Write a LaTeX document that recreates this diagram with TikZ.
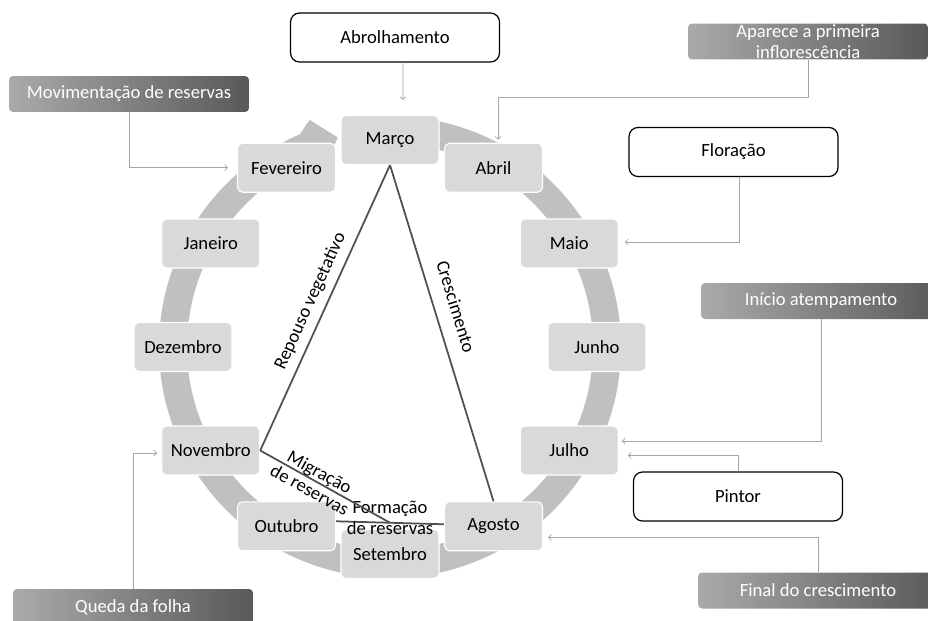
\documentclass[tikz,border=0pt]{standalone}
\usepackage{fontspec}
\setmainfont{Carlito}
\usetikzlibrary{arrows,calc,positioning}

\definecolor{ringgray}{RGB}{192,192,192}
\definecolor{boxgray}{RGB}{217,217,217}
\definecolor{stageleft}{RGB}{170,170,170}
\definecolor{stageright}{RGB}{89,89,89}
\definecolor{linkgray}{RGB}{166,166,166}
\definecolor{phasegray}{RGB}{80,80,80}

\begin{document}
\begin{tikzpicture}[x=0.02cm,y=0.02cm,>=to,font=\fontsize{10.6}{11.6}\selectfont]
        \tikzstyle{month}=[rectangle,rounded corners=0.1cm,fill=boxgray,draw=white,line width=0.6pt,minimum width=1.96cm,minimum height=0.98cm,inner sep=0pt]
        \tikzstyle{event}=[rectangle,rounded corners=0.18cm,draw=black,line width=0.7pt,fill=white,minimum width=4.18cm,minimum height=0.98cm]
        \tikzstyle{stage}=[rectangle,rounded corners=0.08cm,left color=stageleft,right color=stageright,minimum width=4.8cm,minimum height=0.72cm,text=white]
        \tikzstyle{link}=[->,draw=linkgray,line width=0.5pt]
        \tikzstyle{phase}=[draw=phasegray,line width=1pt]

        \useasboundingbox (0,0) rectangle (928,620);
        \clip (0,0) rectangle (928,620);

        \coordinate (c) at (390,273);
        % circular arrow behind the months
        \fill[ringgray] ($(c)+(85:203)$) arc[start angle=85,end angle=-247,radius=203]
            -- ($(c)+(-250.5:192)$) -- ($(c)+(-256:216)$) -- ($(c)+(-250.5:241)$)
            -- ($(c)+(-247:231)$) arc[start angle=-247,end angle=85,radius=231] -- cycle;

        \node [month] (mar) at ($(c)+(90:207)$)  {Março};
        \node [month] (abl) at ($(c)+(60:207)$)  {Abril};
        \node [month] (mai) at ($(c)+(30:207)$)  {Maio};
        \node [month] (jun) at ($(c)+(0:207)$)   {Junho};
        \node [month] (jul) at ($(c)+(-30:207)$) {Julho};
        \node [month] (ago) at ($(c)+(-60:207)$) {Agosto};
        \node [month] (set) at ($(c)+(-90:207)$) {Setembro};
        \node [month] (out) at ($(c)+(240:207)$) {Outubro};
        \node [month] (nov) at ($(c)+(210:207)$) {Novembro};
        \node [month] (dez) at ($(c)+(180:207)$) {Dezembro};
        \node [month] (jan) at ($(c)+(150:207)$) {Janeiro};
        \node [month] (fev) at ($(c)+(120:207)$) {Fevereiro};

        % phases
        \draw [phase] (mar.south) -- node [sloped,above,pos=0.44,inner sep=8pt] (cre) {Crescimento} (ago.north);
        \draw [phase] (nov.east) -- node [sloped,above,pos=0.5,inner sep=4pt] (rep) {Repouso vegetativo} (mar.south);
        \draw [phase] ([yshift=0.1cm]out.east) -- coordinate [pos=0.5] (jr) ([yshift=0.04cm]ago.west);
        \node [align=center,inner sep=0pt] (frm) at ([yshift=0.1cm]jr) {Formação\\de reservas};
        \draw [phase] (nov.east) -- node [sloped,pos=0.42,align=center,inner sep=0pt] (mig) {Migração\\de reservas} (jr);

        % events
        \node [event] (abr) at (395,582.5) {Abrolhamento};
        \node [event] (flo) at (733.5,468)  {Floração};
        \node [event] (pin) at (738,123.5)  {Pintor};

        \node [stage] (apa) at (808,578.5) {};
        \node [text=white,align=center,inner sep=0pt] (apa-t) at (apa) {Aparece a primeira\\inflorescência};
        \node [stage] (mov) at (129,526)  {Movimentação de reservas};
        \node [stage] (ini) at (821,319)  {Início atempamento};
        \node [stage] (fin) at (818,29.5) {Final do crescimento};
        \node [stage] (que) at (133,13)   {Queda da folha};

        % links
        \draw [link] ([xshift=0.16cm]abr.south) -- ([xshift=0.26cm,yshift=0.3cm]mar.north);
        \draw [link] (apa.south) -- ++(0,-38) -| ([xshift=0.09cm,yshift=0.06cm]abl.north);
        \draw [link,shorten >=0.18cm] (mov.south) |- (fev.west);
        \draw [link,shorten >=0.12cm] ([xshift=0.12cm]flo.south) |- ([yshift=0.03cm]mai.east);
        \draw [link,shorten >=0.06cm] (ini.south) |- ([yshift=0.19cm]jul.east);
        \draw [link,shorten >=0.18cm] (pin.north) |- ([yshift=-0.1cm]jul.east);
        \draw [link,shorten >=0.1cm] (fin.north) |- ([yshift=-0.22cm]ago.east);
        \draw [link,shorten >=0.08cm] (que.north) |- ([yshift=-0.05cm]nov.west);
    \end{tikzpicture}
\end{document}
